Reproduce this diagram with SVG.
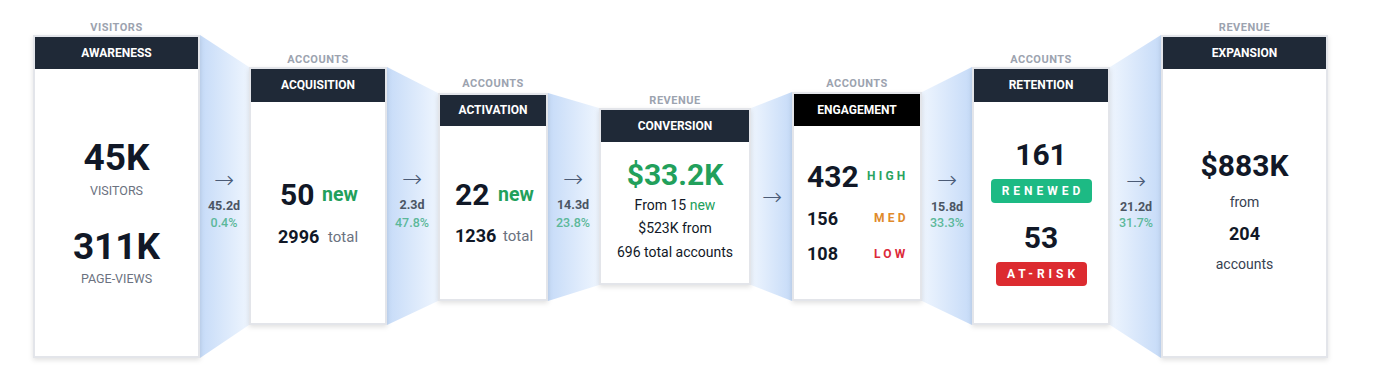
<svg xmlns="http://www.w3.org/2000/svg" width="1376" height="373" viewBox="0 0 1376 373">
<defs>
<linearGradient id="gl" x1="0" y1="0" x2="1" y2="0"><stop offset="0" stop-color="#c6dbf8"/><stop offset="1" stop-color="#eef5fe"/></linearGradient>
<linearGradient id="gr" x1="0" y1="0" x2="1" y2="0"><stop offset="0" stop-color="#eef5fe"/><stop offset="1" stop-color="#c6dbf8"/></linearGradient>
<filter id="sh" x="-10%" y="-10%" width="120%" height="120%"><feDropShadow dx="0" dy="2" stdDeviation="2.5" flood-color="#000" flood-opacity="0.12"/></filter>
<style>
text{font-family:Roboto,"Liberation Sans",sans-serif;}
.card{fill:#fff;stroke:#e3e5ea;stroke-width:2;filter:url(#sh);}
.hdr{fill:#1f2937;}
.ht{fill:#fff;font-size:12px;font-weight:700;text-anchor:middle;}
.top{fill:#9ca3af;font-size:11px;font-weight:700;text-anchor:middle;letter-spacing:0.5px;}
.big{fill:#111827;font-size:37px;font-weight:700;text-anchor:middle;}
.num{fill:#111827;font-size:30px;font-weight:700;}
.mid{fill:#111827;font-size:18px;font-weight:700;}
.sub{fill:#6b7280;font-size:12.5px;text-anchor:middle;}
.new{fill:#22a05b;font-size:19.5px;font-weight:700;}
.tot{fill:#6b7280;font-size:15px;}
.body{fill:#111827;font-size:14px;text-anchor:middle;}
.arr{fill:#4b5b76;font-size:24px;text-anchor:middle;font-family:"DejaVu Sans",sans-serif;font-weight:200;}
.dd{fill:#4b5563;font-size:12.5px;font-weight:700;text-anchor:middle;}
.pc{fill:#5cb89a;font-size:12.5px;font-weight:500;text-anchor:middle;}
.lv{font-size:12px;font-weight:700;letter-spacing:3.2px;}
.badge{fill:#fff;font-size:12px;font-weight:700;letter-spacing:4px;text-anchor:middle;}
</style>
</defs>
<rect width="1376" height="373" fill="#fff"/>
<g id="connectors">
<polygon points="200,35 249,67 249,325 200,358" fill="url(#gl)"/>
<polygon points="387,67 438,93 438,301 387,325" fill="url(#gl)"/>
<polygon points="548,93 599,108 599,285 548,301" fill="url(#gl)"/>
<polygon points="751,108 792,92 792,301 751,285" fill="url(#gr)"/>
<polygon points="922,92 972,67 972,325 922,301" fill="url(#gr)"/>
<polygon points="1110,67 1161,35 1161,358 1110,325" fill="url(#gr)"/>
<text class="arr" x="224" y="188">→</text><text class="dd" x="224" y="210">45.2d</text><text class="pc" x="224" y="227">0.4%</text>
<text class="arr" x="412" y="187">→</text><text class="dd" x="412" y="209">2.3d</text><text class="pc" x="412" y="227">47.8%</text>
<text class="arr" x="573" y="187">→</text><text class="dd" x="573" y="209">14.3d</text><text class="pc" x="573" y="227">23.8%</text>
<text class="arr" x="772" y="205">→</text>
<text class="arr" x="947" y="188">→</text><text class="dd" x="947" y="211">15.8d</text><text class="pc" x="947" y="227">33.3%</text>
<text class="arr" x="1136" y="189">→</text><text class="dd" x="1136" y="211">21.2d</text><text class="pc" x="1136" y="227">31.7%</text>
</g>
<g id="awareness">
<text class="top" x="116.5" y="31">VISITORS</text>
<rect class="card" x="34" y="36" width="165" height="321"/>
<rect class="hdr" x="35" y="37" width="163" height="32"/>
<text class="ht" x="116.5" y="57">AWARENESS</text>
<text class="big" x="116.5" y="170">45K</text>
<text class="sub" x="116.5" y="195">VISITORS</text>
<text class="big" x="116.5" y="259">311K</text>
<text class="sub" x="116.5" y="283">PAGE-VIEWS</text>
</g>
<g id="acquisition">
<text class="top" x="318" y="63">ACCOUNTS</text>
<rect class="card" x="250" y="68" width="136" height="256"/>
<rect class="hdr" x="251" y="69" width="134" height="33"/>
<text class="ht" x="318" y="89">ACQUISITION</text>
<text class="num" x="280" y="205">50</text>
<text class="new" x="322" y="201">new</text>
<text class="mid" x="278" y="243">2996</text>
<text class="tot" x="328" y="242">total</text>
</g>
<g id="activation">
<text class="top" x="493" y="87">ACCOUNTS</text>
<rect class="card" x="439" y="94" width="108" height="206"/>
<rect class="hdr" x="440" y="95" width="106" height="31"/>
<text class="ht" x="493" y="114">ACTIVATION</text>
<text class="num" x="455" y="205">22</text>
<text class="new" x="498" y="201">new</text>
<text class="mid" x="455" y="242">1236</text>
<text class="tot" x="503" y="241">total</text>
</g>
<g id="conversion">
<text class="top" x="675" y="104">REVENUE</text>
<rect class="card" x="600" y="109" width="150" height="175"/>
<rect class="hdr" x="601" y="110" width="148" height="32"/>
<text class="ht" x="675" y="130">CONVERSION</text>
<text x="675" y="185" style="fill:#22a05b;font-size:30px;font-weight:700;text-anchor:middle">$33.2K</text>
<text class="body" x="675" y="210">From 15 <tspan fill="#22a05b">new</tspan></text>
<text class="body" x="675" y="233">$523K from</text>
<text class="body" x="675" y="257">696 total accounts</text>
</g>
<g id="engagement">
<text class="top" x="857" y="87">ACCOUNTS</text>
<rect class="card" x="793" y="93" width="128" height="207"/>
<rect x="794" y="94" width="126" height="32" fill="#000"/>
<text class="ht" x="857" y="114">ENGAGEMENT</text>
<text class="num" x="807" y="187">432</text>
<text class="lv" x="867" y="180" fill="#2aa35f">HIGH</text>
<text class="mid" x="807" y="225">156</text>
<text class="lv" x="874" y="222" fill="#e08a2b">MED</text>
<text class="mid" x="807" y="260">108</text>
<text class="lv" x="874" y="258" fill="#dc2a3a">LOW</text>
</g>
<g id="retention">
<text class="top" x="1041" y="63">ACCOUNTS</text>
<rect class="card" x="973" y="68" width="136" height="256"/>
<rect class="hdr" x="974" y="69" width="134" height="33"/>
<text class="ht" x="1041" y="89">RETENTION</text>
<text class="num" x="1041" y="165" text-anchor="middle">161</text>
<rect x="991" y="179" width="101" height="24" rx="4" fill="#1dba84"/>
<text class="badge" x="1043" y="195">RENEWED</text>
<text class="num" x="1041" y="248" text-anchor="middle">53</text>
<rect x="996" y="262" width="91" height="24" rx="4" fill="#dc2b30"/>
<text class="badge" x="1043" y="278">AT-RISK</text>
</g>
<g id="expansion">
<text class="top" x="1244.5" y="31">REVENUE</text>
<rect class="card" x="1162" y="36" width="165" height="321"/>
<rect class="hdr" x="1163" y="37" width="163" height="32"/>
<text class="ht" x="1244.5" y="57">EXPANSION</text>
<text class="num" x="1244.5" y="176" text-anchor="middle">$883K</text>
<text class="body" x="1244.5" y="207" style="fill:#374151">from</text>
<text class="mid" x="1244.5" y="240" text-anchor="middle">204</text>
<text class="body" x="1244.5" y="269" style="fill:#374151">accounts</text>
</g>
</svg>
